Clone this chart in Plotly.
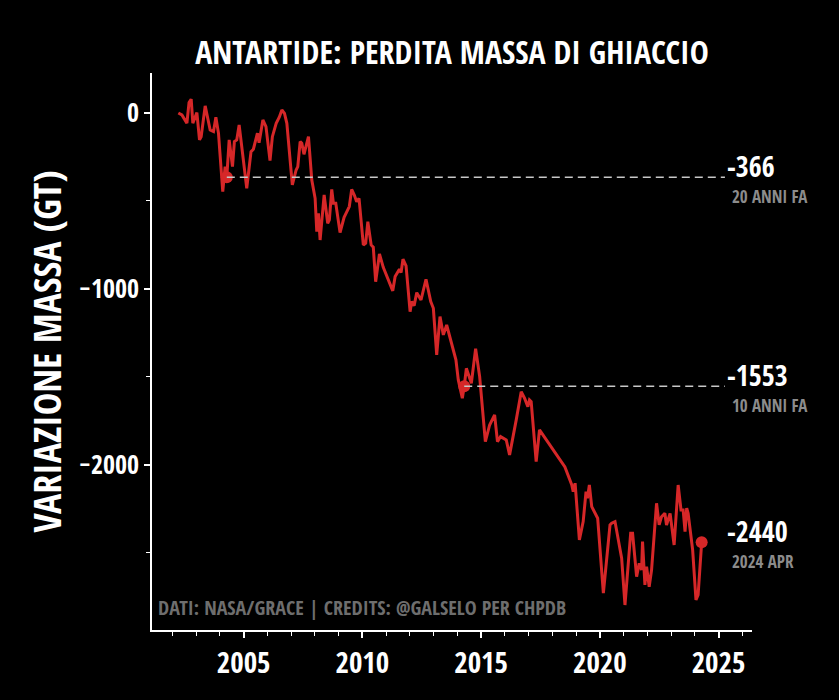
import plotly.graph_objects as go

# mass change of the Antarctic ice sheet (GRACE / GRACE-FO), Gt
years = [
    2002.25, 2002.40, 2002.61, 2002.70, 2002.79, 2002.86, 2003.03, 2003.14, 2003.21, 2003.38,
    2003.59, 2003.73, 2003.83, 2003.94, 2004.12, 2004.22, 2004.29, 2004.39, 2004.53, 2004.61,
    2004.71, 2004.81, 2005.13, 2005.31, 2005.41, 2005.58, 2005.65, 2005.81, 2005.94, 2006.11,
    2006.21, 2006.37, 2006.50, 2006.61, 2006.72, 2006.82, 2007.05, 2007.21, 2007.28, 2007.38,
    2007.45, 2007.54, 2007.73, 2007.87, 2008.01, 2008.08, 2008.15, 2008.22, 2008.39, 2008.54,
    2008.61, 2008.71, 2008.78, 2008.88, 2009.06, 2009.23, 2009.45, 2009.55, 2009.66, 2009.76,
    2009.86, 2010.04, 2010.14, 2010.23, 2010.37, 2010.46, 2010.56, 2010.72, 2010.88, 2011.05,
    2011.28, 2011.38, 2011.56, 2011.63, 2011.71, 2011.84, 2012.01, 2012.08, 2012.18, 2012.29,
    2012.47, 2012.68, 2012.88, 2012.99, 2013.13, 2013.27, 2013.41, 2013.55, 2013.81, 2013.94,
    2014.04, 2014.21, 2014.29, 2014.38, 2014.59, 2014.77, 2014.94, 2015.18, 2015.36, 2015.57,
    2015.69, 2015.82, 2016.06, 2016.20, 2016.48, 2016.69, 2016.83, 2016.97, 2017.04, 2017.11,
    2017.32, 2017.46, 2018.53, 2018.82, 2018.88, 2018.96, 2019.14, 2019.30, 2019.42, 2019.48,
    2019.56, 2019.66, 2019.91, 2020.15, 2020.43, 2020.50, 2020.64, 2020.78, 2020.92, 2021.06,
    2021.16, 2021.30, 2021.38, 2021.55, 2021.66, 2021.76, 2021.80, 2021.90, 2021.97, 2022.08,
    2022.18, 2022.39, 2022.50, 2022.60, 2022.74, 2022.81, 2022.96, 2023.13, 2023.30, 2023.42,
    2023.51, 2023.59, 2023.66, 2023.72, 2023.91, 2024.05, 2024.14, 2024.29,
]
mass = [
    0, -11, -58, 59, 78, -58, 2, -153, -135, 40,
    -97, -106, -24, -115, -447, -305, -366, -153, -305, -163,
    -153, -68, -428, -220, -206, -115, -169, -40, -78, -271,
    -135, -59, -24, 17, -2, -59, -409, -324, -305, -163,
    -172, -235, -135, -381, -485, -674, -570, -722, -466, -627,
    -608, -434, -513, -513, -680, -593, -532, -434, -466, -504,
    -485, -750, -740, -618, -750, -763, -959, -801, -877, -930,
    -1011, -930, -888, -907, -831, -869, -1129, -1072, -1095, -1021,
    -1063, -945, -1072, -1110, -1375, -1157, -1261, -1205, -1328, -1403,
    -1517, -1621, -1553, -1451, -1536, -1340, -1498, -1868, -1773, -1716,
    -1868, -1839, -1858, -1943, -1744, -1584, -1621, -1669, -1631, -1640,
    -1981, -1801, -2011, -2114, -2152, -2104, -2426, -2322, -2152, -2189,
    -2114, -2237, -2303, -2729, -2341, -2331, -2322, -2436, -2530, -2796,
    -2635, -2388, -2388, -2635, -2559, -2597, -2436, -2682, -2578, -2692,
    -2597, -2218, -2341, -2294, -2275, -2341, -2275, -2455, -2114, -2256,
    -2256, -2379, -2246, -2275, -2483, -2767, -2739, -2440,
]

# highlighted points: 20 years ago, 10 years ago, last value
highlight_idx = [16, 92, len(years) - 1]
highlight_sub = ["20 ANNI FA", "10 ANNI FA", "2024 APR"]

FONT = "'Open Sans Condensed', 'Roboto Condensed', 'Liberation Sans', sans-serif"
RED = "#d62728"
LINE_END = 2025.27

fig = go.Figure()

fig.add_trace(go.Scatter(
    x=years, y=mass,
    mode="lines",
    line=dict(color=RED, width=3),
    hoverinfo="skip",
    showlegend=False,
))

hx = [years[i] for i in highlight_idx]
hy = [mass[i] for i in highlight_idx]
fig.add_trace(go.Scatter(
    x=hx, y=hy,
    mode="markers",
    marker=dict(color=RED, size=12),
    showlegend=False,
))

# dashed reference lines for the two past values
for x0, y0 in zip(hx[:2], hy[:2]):
    fig.add_shape(type="line", x0=x0, x1=LINE_END, y0=y0, y1=y0,
                  line=dict(color="#c8c8c8", width=1.5, dash="8px,5px"))

for i, (x0, y0) in enumerate(zip(hx, hy)):
    fig.add_annotation(x=LINE_END, y=y0, xanchor="left", yanchor="middle",
                       text=f"{y0}", showarrow=False, yshift=11, xshift=0,
                       font=dict(family=FONT, size=28, color="white", weight="bold"))
    fig.add_annotation(x=LINE_END, y=y0, xanchor="left", yanchor="middle",
                       text=highlight_sub[i], showarrow=False, yshift=-19, xshift=5,
                       font=dict(family=FONT, size=17, color="#8c8c8c", weight="bold"))

fig.add_annotation(xref="paper", yref="paper", x=0.006, y=0.012,
                   xanchor="left", yanchor="bottom", showarrow=False,
                   text="DATI: NASA/GRACE | CREDITS: @GALSELO PER CHPDB",
                   font=dict(family=FONT, size=20, color="#6e6e6e", weight="bold"))

fig.update_layout(
    width=839, height=700,
    paper_bgcolor="black", plot_bgcolor="black",
    margin=dict(l=152, r=87, t=73, b=70),
    title=dict(text="ANTARTIDE: PERDITA MASSA DI GHIACCIO",
               xref="paper", x=0.5, xanchor="center", y=0.925, yanchor="middle",
               font=dict(family=FONT, size=32, color="white", weight="bold")),
    font=dict(family=FONT, color="white"),
    xaxis=dict(
        range=[2001.14, 2026.41],
        tickmode="array", tickvals=[2005, 2010, 2015, 2020, 2025],
        ticks="outside", ticklen=6, tickwidth=1.5, tickcolor="white",
        minor=dict(dtick=1, tick0=2000, ticks="outside", ticklen=4, tickcolor="white", tickwidth=1),
        showline=True, linecolor="white", linewidth=1.5,
        showgrid=False, zeroline=False,
        tickfont=dict(family=FONT, size=29, color="white", weight="bold"),
    ),
    yaxis=dict(
        range=[-2938, 227],
        tickmode="array", tickvals=[0, -1000, -2000],
        ticktext=["0", "−1000", "−2000"],
        ticks="outside", ticklen=6, tickwidth=1.5, tickcolor="white",
        minor=dict(tickvals=[-500, -1500, -2500], ticks="outside", ticklen=4, tickcolor="white", tickwidth=1),
        showline=True, linecolor="white", linewidth=1.5,
        showgrid=False, zeroline=False,
        tickfont=dict(family=FONT, size=26, color="white", weight="bold"),
        title=dict(text="VARIAZIONE MASSA (GT)", standoff=6,
                   font=dict(family=FONT, size=38, color="white", weight="bold")),
    ),
)

fig.write_html("out.html", config={"displayModeBar": False},
               post_script="document.body.style.margin='0';")
